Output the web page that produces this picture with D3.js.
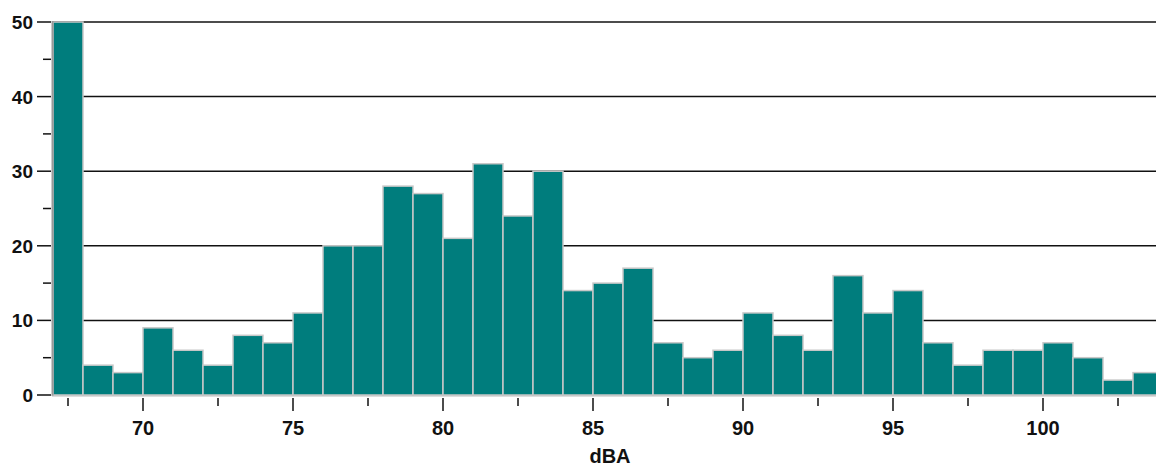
<!DOCTYPE html>
<html><head><meta charset="utf-8">
<script src="https://cdn.jsdelivr.net/npm/d3@7"></script>
<style>body{margin:0;background:#fff;}svg{display:block;}</style>
</head><body>
<script>
const binStarts = [67,68,69,70,71,72,73,74,75,76,77,78,79,80,81,82,83,84,85,86,87,88,89,90,91,92,93,94,95,96,97,98,99,100,101,102,103];
const counts    = [50,4,3,9,6,4,8,7,11,20,20,28,27,21,31,24,30,14,15,17,7,5,6,11,8,6,16,11,14,7,4,6,6,7,5,2,3];
const binWidth = 1;
const xMajorTicks = [70,75,80,85,90,95,100];
const xMinorTicks = [67.5,72.5,77.5,82.5,87.5,92.5,97.5,102.5];
const yMajorTicks = [0,10,20,30,40,50];
const yMinorTicks = [5,15,25,35,45];
const xTitle = "dBA";

const W = 1156, H = 469;
const svg = d3.select("body").append("svg").attr("width", W).attr("height", H);
const x = d3.scaleLinear().domain([67, 104]).range([53, 1163]);
const y = d3.scaleLinear().domain([0, 50]).range([395, 22]);
const font = "Arial, 'Liberation Sans', sans-serif";

// gridlines
svg.append("g").selectAll("line").data(yMajorTicks.filter(d => d > 0)).join("line")
  .attr("x1", x(67)).attr("x2", W).attr("y1", d => y(d)).attr("y2", d => y(d))
  .attr("stroke", "#111").attr("stroke-width", 1.5);

// bars
svg.append("g").selectAll("rect").data(binStarts).join("rect")
  .attr("x", (d) => x(d))
  .attr("width", x(67 + binWidth) - x(67))
  .attr("y", (d, i) => y(counts[i]))
  .attr("height", (d, i) => y(0) - y(counts[i]))
  .attr("fill", "#007d7d")
  .attr("stroke", "#c8c8c8").attr("stroke-width", 1.5);

// y axis
const ya = svg.append("g");
ya.append("line").attr("x1", 52.5).attr("x2", 52.5).attr("y1", y(50) - 1).attr("y2", y(0) + 1)
  .attr("stroke", "#999").attr("stroke-width", 2);
ya.selectAll(".maj").data(yMajorTicks).join("line").attr("class", "maj")
  .attr("x1", 37).attr("x2", 51).attr("y1", d => y(d)).attr("y2", d => y(d))
  .attr("stroke", "#111").attr("stroke-width", 1.5);
ya.selectAll(".min").data(yMinorTicks).join("line").attr("class", "min")
  .attr("x1", 43).attr("x2", 51).attr("y1", d => y(d)).attr("y2", d => y(d))
  .attr("stroke", "#111").attr("stroke-width", 1.5);
ya.selectAll("text").data(yMajorTicks).join("text")
  .attr("x", 33).attr("y", d => y(d) + 7)
  .attr("text-anchor", "end").attr("font-family", font).attr("font-weight", "bold")
  .attr("font-size", 19).attr("fill", "#111").text(d => d);

// x axis
const xa = svg.append("g");
xa.append("line").attr("x1", 52).attr("x2", W).attr("y1", 396).attr("y2", 396)
  .attr("stroke", "#bbb").attr("stroke-width", 1);
xa.selectAll(".maj").data(xMajorTicks).join("line").attr("class", "maj")
  .attr("x1", d => x(d)).attr("x2", d => x(d)).attr("y1", 398).attr("y2", 411)
  .attr("stroke", "#111").attr("stroke-width", 1.5);
xa.selectAll(".min").data(xMinorTicks).join("line").attr("class", "min")
  .attr("x1", d => x(d)).attr("x2", d => x(d)).attr("y1", 398).attr("y2", 406)
  .attr("stroke", "#111").attr("stroke-width", 1.5);
xa.selectAll("text").data(xMajorTicks).join("text")
  .attr("x", d => x(d)).attr("y", 435)
  .attr("text-anchor", "middle").attr("font-family", font).attr("font-weight", "bold")
  .attr("font-size", 20).attr("fill", "#111").text(d => d);
svg.append("text").attr("x", 610).attr("y", 463)
  .attr("text-anchor", "middle").attr("font-family", font).attr("font-weight", "bold")
  .attr("font-size", 20).attr("fill", "#111").text(xTitle);
</script>
</body></html>
